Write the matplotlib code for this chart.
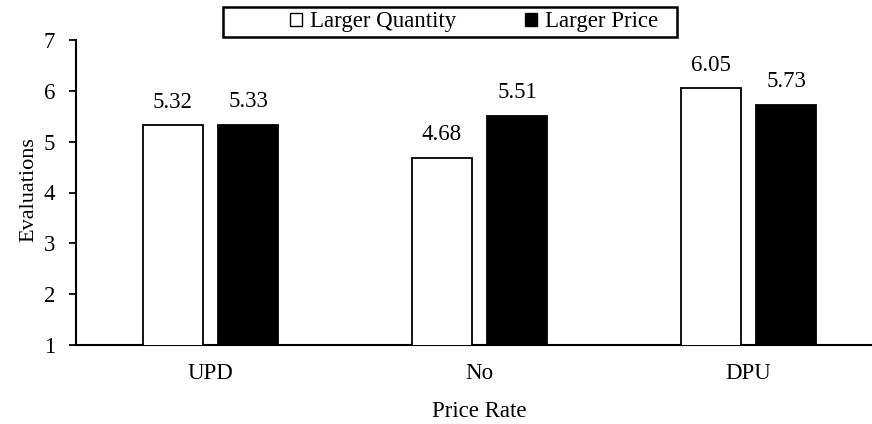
import matplotlib
matplotlib.use("Agg")
import matplotlib.pyplot as plt
import numpy as np
from matplotlib.patches import Patch, Rectangle

plt.rcParams['font.family'] = ['Liberation Serif', 'DejaVu Serif']

categories = ["UPD", "No", "DPU"]
series_names = ["Larger Quantity", "Larger Price"]
quantity_vals = [5.32, 4.68, 6.05]
price_vals = [5.33, 5.51, 5.73]
yticks = [1, 2, 3, 4, 5, 6, 7]

FS = 16.5

fig = plt.figure(figsize=(8.72, 4.24), dpi=100)
W, H = 872, 424
left, right, top, bottom = 76, 883, 40, 345
ax = fig.add_axes([left / W, 1 - bottom / H, (right - left) / W, (bottom - top) / H])

x = np.arange(len(categories))
bw = 0.224
off = 0.14
b1 = ax.bar(x - off, quantity_vals, bw, bottom=0, color="white", edgecolor="black", linewidth=1.3, zorder=3)
b2 = ax.bar(x + off, price_vals, bw, bottom=0, color="black", edgecolor="black", linewidth=1.3, zorder=3)

for bars, vals in ((b1, quantity_vals), (b2, price_vals)):
    for rect, v in zip(bars, vals):
        ax.annotate(f"{v:.2f}", (rect.get_x() + rect.get_width() / 2, v),
                    xytext=(0, 9), textcoords="offset points",
                    ha="center", va="bottom", fontsize=FS)

ax.set_ylim(1, 7)
ax.set_xlim(-0.5, 2.5)
ax.set_yticks(yticks)
ax.set_xticks(x)
ax.set_xticklabels(categories)
ax.tick_params(axis="y", direction="out", length=5, width=1.3, labelsize=FS, pad=10)
ax.tick_params(axis="x", length=0, labelsize=FS, pad=13)

for s in ("top", "right"):
    ax.spines[s].set_visible(False)
for s in ("left", "bottom"):
    ax.spines[s].set_linewidth(1.5)
    ax.spines[s].set_color("black")

ax.set_ylabel("Evaluations", fontsize=16)
ax.yaxis.set_label_coords(-0.047, 0.51)
ax.set_xlabel("Price Rate", fontsize=FS, labelpad=12)

# legend frame box
fig.patches.append(Rectangle((223 / W, 1 - 37 / H), (677 - 223) / W, 30 / H,
                             transform=fig.transFigure, facecolor="white",
                             edgecolor="black", linewidth=1.8, zorder=1))

handles = [Patch(facecolor="white", edgecolor="black", linewidth=1.0),
           Patch(facecolor="black", edgecolor="black", linewidth=1.0)]
leg = fig.legend(handles, series_names, loc="center",
                 bbox_to_anchor=(474 / W, 1 - 22 / H), ncol=2, fontsize=FS,
                 frameon=False, handlelength=0.52, handleheight=0.52,
                 handletextpad=0.35, columnspacing=3.0, borderpad=0.1,
                 borderaxespad=0)

fig.savefig("out.png", dpi=100)
